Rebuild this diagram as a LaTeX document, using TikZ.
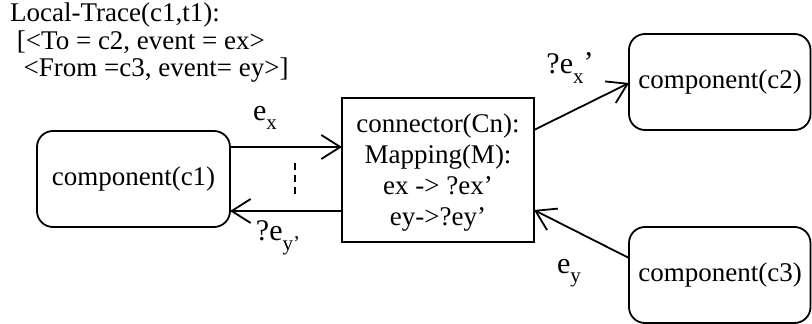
\documentclass[tikz,border=0pt]{standalone}
\usepackage{fontspec}
\setmainfont{Liberation Serif}
\usetikzlibrary{arrows.meta}
\newcommand{\sbx}[1]{\raisebox{-0.32em}{\fontsize{21}{21}\selectfont #1}}
\begin{document}
\begin{tikzpicture}[x=1pt,y=-1pt,
  every node/.style={font=\fontsize{27}{31}\selectfont, inner sep=0pt},
  comp/.style={draw, line width=1.8pt, rounded corners=16pt},
  conn/.style={draw, line width=1.8pt},
  arr/.style={line width=1.8pt, -{Straight Barb[length=19pt,width=24pt,line width=1.8pt]}},
  lbl/.style={anchor=center, font=\fontsize{30}{32}\selectfont}]
\useasboundingbox (0,0) rectangle (812,324);
% boxes
\draw[comp] (37,131) rectangle (230,227);
\node (c1) at (133.5,179) {component(c1)};
\coordinate (c1ne) at (230,147);
\coordinate (c1se) at (230,211);
\draw[comp] (629,34) rectangle (810.5,130);
\node (c2) at (720,82) {component(c2)};
\coordinate (c2w) at (629,83);
\draw[comp] (629,227) rectangle (810.5,323);
\node (c3) at (720,275) {component(c3)};
\coordinate (c3w) at (629,258);
\draw[conn] (342,98) rectangle (534,242);
\node[align=center] (cn) at (438,173) {connector(Cn):\\Mapping(M):\\ex -> ?ex’\\ey->?ey’};
\coordinate (cnw1) at (342,147);
\coordinate (cnw2) at (342,211);
\coordinate (cne1) at (534,130);
\coordinate (cne2) at (534,210);
% arrows
\draw[arr] (c1ne) -- (cnw1);
\draw[arr] (cnw2) -- (c1se);
\draw[arr] (cne1) -- (c2w);
\draw[arr] (c3w) -- (cne2);
\coordinate (d1) at (295,163);
\coordinate (d2) at (295,196);
\draw[line width=1.8pt, dash pattern=on 7pt off 5pt] (d1) -- (d2);
% labels
\node[lbl] (lx) at (265,118) {e\sbx{x}};
\node[lbl] (ly) at (278,238) {?e\sbx{y’}};
\node[lbl] (lx2) at (570,68) {?e\sbx{x}\raisebox{0.05em}{’}};
\node[lbl] (ly2) at (569,273) {e\sbx{y}};
\node[anchor=north west, align=left, font=\fontsize{27}{27.5}\selectfont] (trace) at (10,3) {Local-Trace(c1,t1):\\\ [<To = c2, event = ex>\\\ \ <From =c3, event= ey>]};
\end{tikzpicture}
\end{document}
